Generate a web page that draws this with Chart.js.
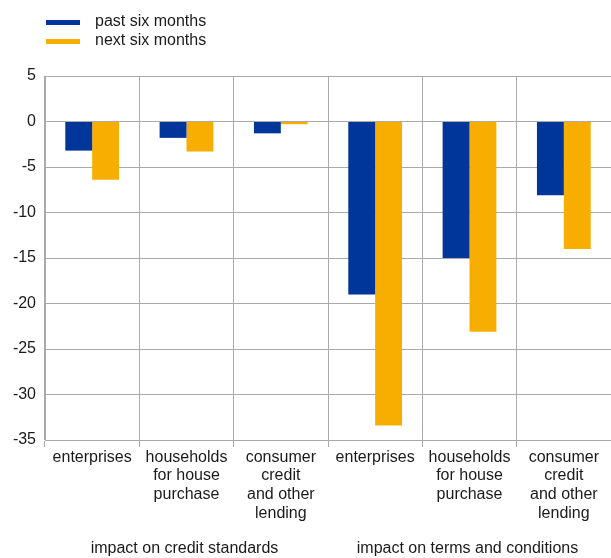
<!DOCTYPE html>
<html>
<head>
<meta charset="utf-8">
<script src="https://cdn.jsdelivr.net/npm/chart.js@4"></script>
<style>
  html, body { margin: 0; padding: 0; background: #fff; }
  #wrap { position: relative; width: 611px; height: 558px; }
</style>
</head>
<body>
<div id="wrap"><canvas id="chart"></canvas></div>
<script>
const categories = [
  ['enterprises'],
  ['households', 'for house', 'purchase'],
  ['consumer', 'credit', 'and other', 'lending'],
  ['enterprises'],
  ['households', 'for house', 'purchase'],
  ['consumer', 'credit', 'and other', 'lending']
];
const groups = ['impact on credit standards', 'impact on terms and conditions'];
const pastSixMonths = [-3.2, -1.8, -1.3, -19.0, -15.0, -8.1];
const nextSixMonths = [-6.4, -3.3, -0.3, -33.4, -23.1, -14.0];
const seriesNames = ['past six months', 'next six months'];
const colors = ['#00369a', '#f7ae00'];

const font = { family: 'Arial, "Liberation Sans", sans-serif', size: 16, lineHeight: 1.17 };
const gridColor = '#aaaaaa';

// legend + group captions drawn on the canvas
const extras = {
  id: 'extras',
  afterDraw(chart) {
    const ctx = chart.ctx;
    const x = chart.scales.x;
    ctx.save();
    ctx.font = `${font.size}px ${font.family}`;
    ctx.textBaseline = 'middle';
    seriesNames.forEach((name, i) => {
      const y = 22 + i * 19;
      ctx.fillStyle = colors[i];
      ctx.fillRect(46, y - 2, 34, 5);
      ctx.fillStyle = '#1a1a1a';
      ctx.textAlign = 'left';
      ctx.fillText(name, 95, y);
    });
    ctx.textAlign = 'center';
    groups.forEach((g, i) => {
      const cx = x.getPixelForValue(i * 3 + 1) - 2;
      ctx.fillText(g, cx, 549);
    });
    ctx.restore();
  }
};

new Chart(document.getElementById('chart'), {
  type: 'bar',
  data: {
    labels: categories,
    datasets: [
      { label: seriesNames[0], data: pastSixMonths, backgroundColor: colors[0] },
      { label: seriesNames[1], data: nextSixMonths, backgroundColor: colors[1] }
    ]
  },
  options: {
    responsive: true,
    maintainAspectRatio: false,
    animation: false,
    devicePixelRatio: 1,
    layout: { padding: { top: 76, right: 0, left: 0, bottom: 0 } },
    datasets: { bar: { categoryPercentage: 0.57, barPercentage: 1 } },
    plugins: { legend: { display: false }, tooltip: { enabled: false } },
    scales: {
      x: {
        afterFit: (s) => { s.height = 118; },
        // no line on the right edge of the plot
        grid: { offset: true, tickLength: 7, color: (c) => c.type === 'tick' ? gridColor : 'rgba(0,0,0,0)' },
        border: { color: gridColor },
        ticks: { font: font, color: '#1a1a1a', maxRotation: 0, autoSkip: false, padding: 1 }
      },
      y: {
        min: -35, max: 5,
        afterFit: (s) => { s.width = 45; },
        grid: { color: gridColor, drawTicks: false },
        border: { color: gridColor },
        ticks: { stepSize: 5, font: font, color: '#1a1a1a', padding: 9 }
      }
    }
  },
  plugins: [extras]
});
</script>
</body>
</html>
